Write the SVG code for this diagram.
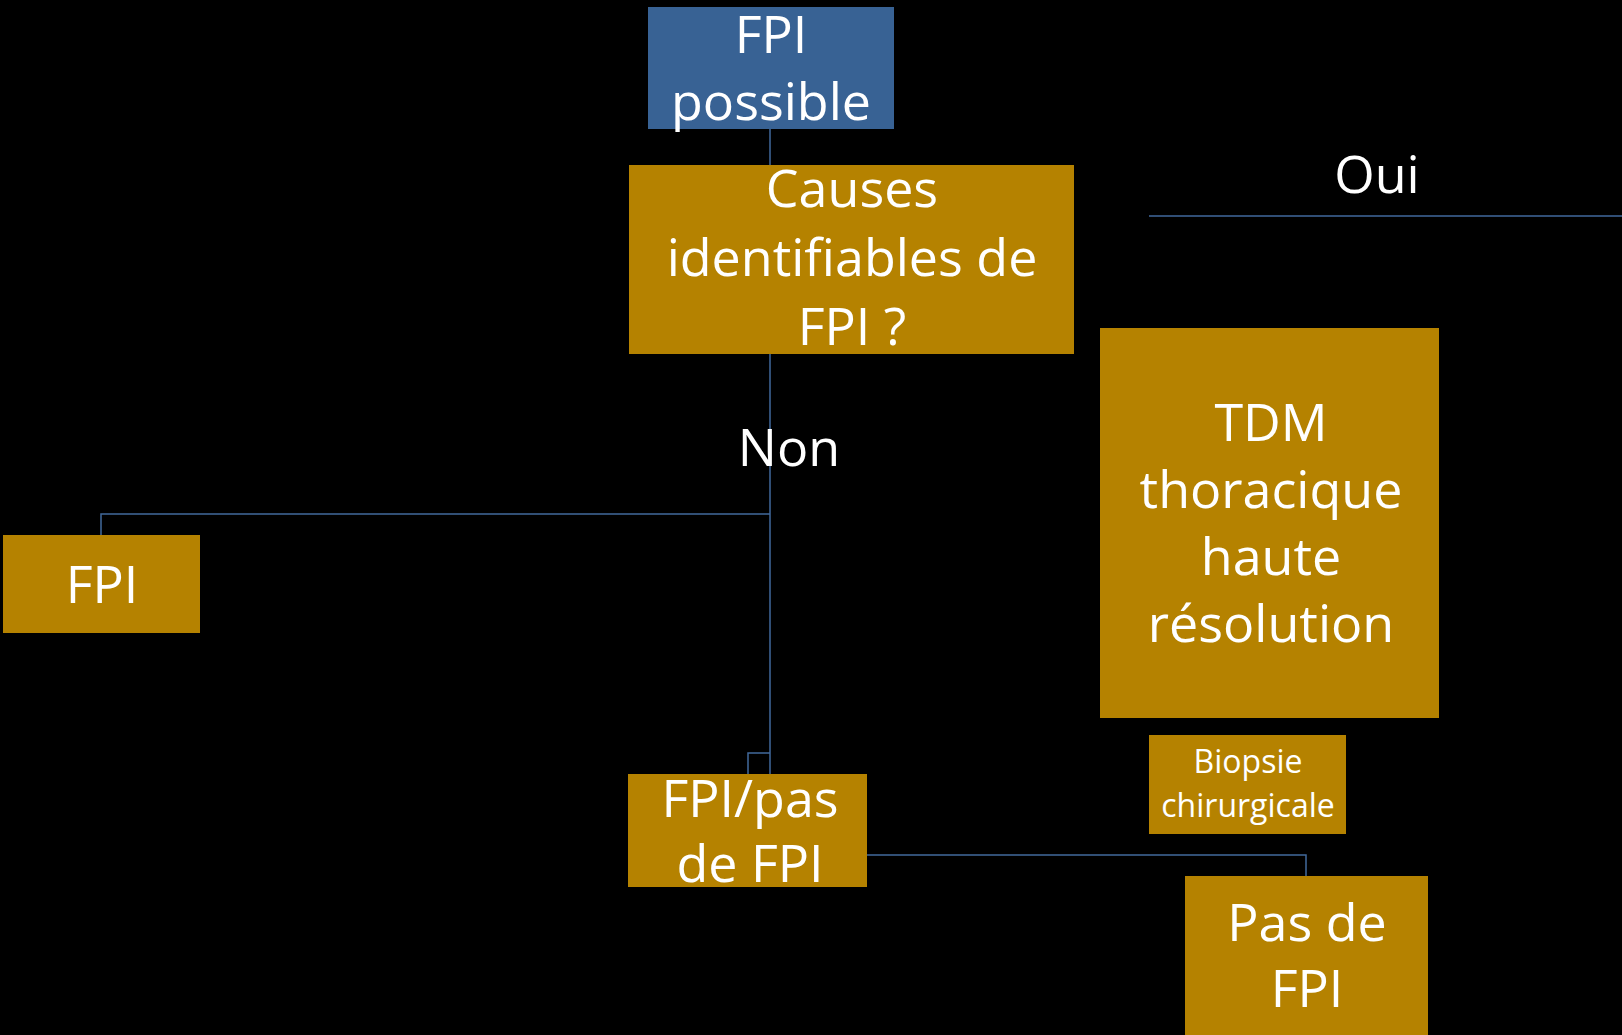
<svg xmlns="http://www.w3.org/2000/svg" width="1622" height="1035" viewBox="0 0 1622 1035">
<style>
.gold{fill:#B58200}
.blue{fill:#386294}
text{font-family:"Open Sans","Noto Sans","DejaVu Sans",sans-serif;fill:#FFFFFF;text-anchor:middle;font-size:52px}
.small{font-size:32px}
.conn{fill:none;stroke:#41699C;stroke-width:1.5}
</style>
<rect x="0" y="0" width="1622" height="1035" fill="#000000"/>
<g id="connectors">
<path class="conn" d="M770 129 V165"/>
<path class="conn" d="M770 354 V774"/>
<path class="conn" d="M770 514 H101 V535"/>
<path class="conn" d="M770 753 H748 V774"/>
<path class="conn" d="M867 855 H1306 V876"/>
<path class="conn" d="M1149 216 H1622"/>
</g>
<g id="node-fpi-possible">
<rect class="blue" x="648" y="7" width="246" height="122"/>
<text x="771" y="53">FPI</text>
<text x="771" y="120">possible</text>
</g>
<g id="node-causes">
<rect class="gold" x="629" y="165" width="445" height="189"/>
<text x="852" y="207">Causes</text>
<text x="852" y="276">identifiables de</text>
<text x="852" y="345">FPI ?</text>
</g>
<g id="label-oui">
<text x="1377" y="193">Oui</text>
</g>
<g id="label-non">
<text x="789" y="466">Non</text>
</g>
<g id="node-fpi">
<rect class="gold" x="3" y="535" width="197" height="98"/>
<text x="102" y="603">FPI</text>
</g>
<g id="node-tdm">
<rect class="gold" x="1100" y="328" width="339" height="390"/>
<text x="1271" y="441">TDM</text>
<text x="1271" y="508">thoracique</text>
<text x="1271" y="575">haute</text>
<text x="1271" y="642">résolution</text>
</g>
<g id="node-biopsie">
<rect class="gold" x="1149" y="735" width="197" height="99"/>
<text class="small" x="1248" y="773">Biopsie</text>
<text class="small" x="1248" y="817">chirurgicale</text>
</g>
<g id="node-fpi-pas">
<rect class="gold" x="628" y="774" width="239" height="113"/>
<text x="750" y="817">FPI/pas</text>
<text x="750" y="882">de FPI</text>
</g>
<g id="node-pas-de-fpi">
<rect class="gold" x="1185" y="876" width="243" height="170"/>
<text x="1307" y="941">Pas de</text>
<text x="1307" y="1007">FPI</text>
</g>
</svg>
